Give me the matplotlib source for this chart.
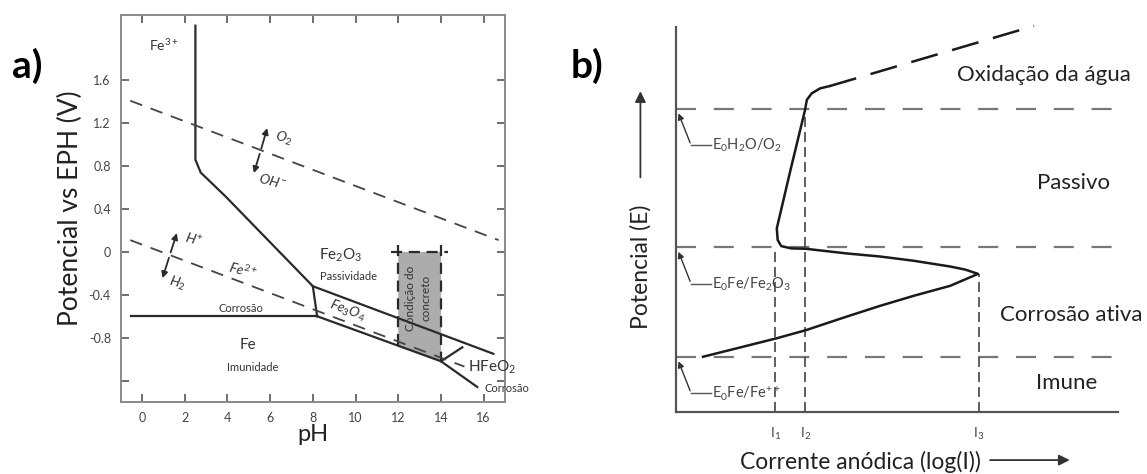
import numpy as np
import matplotlib
matplotlib.use("Agg")
from matplotlib import pyplot as plt
from matplotlib.patches import Polygon

plt.rcParams['font.family'] = ['Lato', 'DejaVu Sans']
plt.rcParams['mathtext.fontset'] = 'custom'
plt.rcParams['mathtext.rm'] = 'Lato'
plt.rcParams['mathtext.it'] = 'Lato:italic'
plt.rcParams['mathtext.bf'] = 'Lato:bold'

#############################################################
# Data - a) Pourbaix diagram (pH, V)
#############################################################
ph_ticks = [0, 2, 4, 6, 8, 10, 12, 14, 16]
v_ticks = [1.6, 1.2, 0.8, 0.4, 0.0, -0.4, -0.8, -1.2]
v_labels = ["1.6", "1.2", "0.8", "0.4", "0", "-0.4", "-0.8", ""]

fe3_ph = [2.5, 2.5, 2.75, 3.9, 8.0, 8.2]
fe3_v = [2.11, 0.86, 0.74, 0.52, -0.32, -0.60]
fe_ph = [-0.5, 8.2]
fe_v = [-0.60, -0.60]
fe2o3_ph = [8.0, 16.45]
fe2o3_v = [-0.32, -0.95]
fe3o4_ph = [8.2, 14.0, 15.7]
fe3o4_v = [-0.60, -1.02, -1.26]
hfeo2_ph = [14.0, 15.0]
hfeo2_v = [-1.02, -0.89]
o2_ph = [-0.55, 16.7]
o2_v = [1.41, 0.11]
h2_ph = [-0.55, 15.1]
h2_v = [0.11, -1.07]
conc_ph = [12.0, 14.0]
conc_top = 0.0
conc_bot = [-0.885, -1.02]

#############################################################
# Data - b) polarisation curve (arbitrary units)
#############################################################
e_levels = [7.87, 4.28, 1.44]
e_names = [r"E$_0$H$_2$O/O$_2$", r"E$_0$Fe/Fe$_2$O$_3$", r"E$_0$Fe/Fe$^{++}$"]
curve_i = [0.61, 2.28, 2.94, 3.86, 4.62, 5.38, 6.21, 6.84, 6.55, 6.21, 5.38, 4.62, 3.86,
           2.94, 2.61, 2.38, 2.30, 2.28, 2.59, 2.92, 2.96, 3.07, 3.26, 3.48]
curve_e = [1.44, 1.92, 2.13, 2.48, 2.76, 3.02, 3.28, 3.59, 3.70, 3.78, 3.93, 4.04, 4.12,
           4.24, 4.25, 4.31, 4.47, 4.77, 6.28, 7.84, 8.10, 8.27, 8.40, 8.46]
water_i = [3.48, 8.11]
water_e = [8.46, 10.02]
i_marks = [2.25, 2.93, 6.86]
i_tops = [4.28, 7.87, 3.59]
i_names = [r"I$_1$", r"I$_2$", r"I$_3$"]
zones = ["Oxidação da água", "Passivo", "Corrosão ativa", "Imune"]
zone_e = [8.75, 5.95, 2.52, 0.75]
zone_i = [8.33, 9.0, 8.96, 8.84]

INK = '#2a2a2a'
TXT = '#222222'

fig = plt.figure(figsize=(11.47, 4.74), dpi=100)

#############################################################
# a)
#############################################################
ax = fig.add_axes([0.1052, 0.1519, 0.3351, 0.8165])
ax.set_xlim(-1, 17)
ax.set_ylim(-1.4, 2.21)
for s in ax.spines.values():
    s.set_color('#8a8a8a')
    s.set_linewidth(1.4)
ax.set_xticks(ph_ticks)
ax.set_yticks(v_ticks)
ax.set_yticklabels(v_labels)
ax.tick_params(direction='in', length=6, width=1.2, color='#555555', top=True, right=True,
               labelsize=9, labelcolor='#444444', pad=7)
ax.set_xlabel("pH", fontsize=17, color=TXT, labelpad=0)
ax.set_ylabel("Potencial vs EPH (V)", fontsize=19, color=TXT, labelpad=4)

ax.add_patch(Polygon([[conc_ph[0], conc_top], [conc_ph[1], conc_top],
                      [conc_ph[1], conc_bot[1]], [conc_ph[0], conc_bot[0]]],
                     closed=True, facecolor='#acacac', edgecolor='none', zorder=1))
ax.plot([conc_ph[0], conc_ph[0]], [0.06, conc_bot[0]], color=INK, lw=1.6, ls=(0, (5, 3)))
ax.plot([conc_ph[1], conc_ph[1]], [0.06, conc_bot[1]], color=INK, lw=1.6, ls=(0, (5, 3)))
ax.plot([11.65, 14.35], [conc_top, conc_top], color=INK, lw=1.6, ls=(0, (5, 3)))

ax.plot(fe3_ph, fe3_v, color=INK, lw=1.6)
ax.plot(fe_ph, fe_v, color=INK, lw=1.6)
ax.plot(fe2o3_ph, fe2o3_v, color=INK, lw=1.6)
ax.plot(fe3o4_ph, fe3o4_v, color=INK, lw=1.6)
ax.plot(hfeo2_ph, hfeo2_v, color=INK, lw=1.6)
ax.plot(o2_ph, o2_v, color='#444444', lw=1.3, ls=(0, (7, 5)))
ax.plot(h2_ph, h2_v, color='#444444', lw=1.3, ls=(0, (7, 5)))

ax.annotate("", xy=(5.9, 1.18), xytext=(5.55, 0.94),
            arrowprops=dict(arrowstyle='-|>', color=INK, lw=1.3, mutation_scale=9))
ax.annotate("", xy=(5.2, 0.71), xytext=(5.55, 0.94),
            arrowprops=dict(arrowstyle='-|>', color=INK, lw=1.3, mutation_scale=9))
ax.annotate("", xy=(1.67, 0.20), xytext=(1.3, -0.03),
            arrowprops=dict(arrowstyle='-|>', color=INK, lw=1.3, mutation_scale=9))
ax.annotate("", xy=(0.92, -0.27), xytext=(1.3, -0.03),
            arrowprops=dict(arrowstyle='-|>', color=INK, lw=1.3, mutation_scale=9))

sm = dict(color='#333333', ha='center', va='center')
ax.text(1.0, 1.93, r"Fe$^{3+}$", fontsize=10, **sm)
ax.text(6.65, 1.06, r"$O_2$", fontsize=10, rotation=-15, **sm)
ax.text(6.1, 0.66, r"$OH^{-}$", fontsize=10, rotation=-15, **sm)
ax.text(2.4, 0.11, r"$H^{+}$", fontsize=10, rotation=-15, **sm)
ax.text(1.65, -0.29, r"$H_2$", fontsize=10, rotation=-15, **sm)
ax.text(4.75, -0.17, r"$Fe^{2+}$", fontsize=10, rotation=-15, **sm)
ax.text(9.3, -0.03, r"Fe$_2$O$_3$", fontsize=11, **sm)
ax.text(9.65, -0.23, "Passividade", fontsize=8, **sm)
ax.text(4.65, -0.53, "Corrosão", fontsize=8, **sm)
ax.text(9.6, -0.55, r"$Fe_3O_4$", fontsize=10, rotation=-20, **sm)
ax.text(4.95, -0.87, "Fe", fontsize=11, **sm)
ax.text(5.2, -1.08, "Imunidade", fontsize=8, **sm)
ax.text(16.4, -1.08, r"HFeO$_2$", fontsize=11, clip_on=False, **sm)
ax.text(17.1, -1.27, "Corrosão", fontsize=8, clip_on=False, **sm)
ax.text(12.95, -0.43, "Condição do\nconcreto", fontsize=8.5, rotation=90,
        linespacing=1.5, **sm)

fig.text(0.024, 0.862, "a)", fontsize=28, fontweight='bold', color='black',
         ha='center', va='center')

#############################################################
# b)
#############################################################
bx = fig.add_axes([0.5895, 0.1302, 0.3848, 0.8135])
bx.set_xlim(0, 10)
bx.set_ylim(0, 10)
for side in ['top', 'right']:
    bx.spines[side].set_visible(False)
for side in ['left', 'bottom']:
    bx.spines[side].set_color('#555555')
    bx.spines[side].set_linewidth(1.6)
bx.set_xticks([])
bx.set_yticks([])

for e in e_levels:
    bx.plot([0, 10], [e, e], color='#777777', lw=1.6, ls=(0, (9, 8)))
for x, top in zip(i_marks, i_tops):
    bx.plot([x, x], [0, top], color='#444444', lw=1.2, ls=(0, (6, 3)))

bx.plot(curve_i, curve_e, color='#1a1a1a', lw=1.8, solid_joinstyle='round')
bx.plot(water_i, water_e, color='#1a1a1a', lw=1.8, ls=(0, (11, 6)), clip_on=False)

for e, name in zip(e_levels, e_names):
    ty = e - 0.95
    bx.plot([0.34, 0.8], [ty, ty], color='#555555', lw=1.0)
    bx.annotate("", xy=(0.03, e - 0.05), xytext=(0.34, ty),
                arrowprops=dict(arrowstyle='-|>', color='#333333', lw=1.0, mutation_scale=9))
    bx.text(0.82, ty, name, fontsize=10.5, color='#444444', ha='left', va='center')

for x, name in zip(i_marks, i_names):
    bx.text(x, -0.55, name, fontsize=10, color='#444444', ha='center', va='center',
            clip_on=False)

for name, e, x in zip(zones, zone_e, zone_i):
    bx.text(x, e, name, fontsize=16, color=TXT, ha='center', va='center', clip_on=False)

bx.text(-0.81, 3.78, "Potencial (E)", fontsize=16.5, color=TXT, rotation=90,
        ha='center', va='center', clip_on=False)
bx.annotate("", xy=(-0.81, 8.4), xytext=(-0.81, 6.02), annotation_clip=False,
            arrowprops=dict(arrowstyle='-|>', color='#333333', lw=1.3, mutation_scale=16))
bx.text(4.18, -1.28, "Corrente anódica (log(I))", fontsize=16.5, color=TXT,
        ha='center', va='center', clip_on=False)
bx.annotate("", xy=(8.98, -1.24), xytext=(7.05, -1.24), annotation_clip=False,
            arrowprops=dict(arrowstyle='-|>', color='#333333', lw=1.3, mutation_scale=16))

fig.text(0.512, 0.862, "b)", fontsize=28, fontweight='bold', color='black',
         ha='center', va='center')

fig.savefig("out.png", dpi=100)
